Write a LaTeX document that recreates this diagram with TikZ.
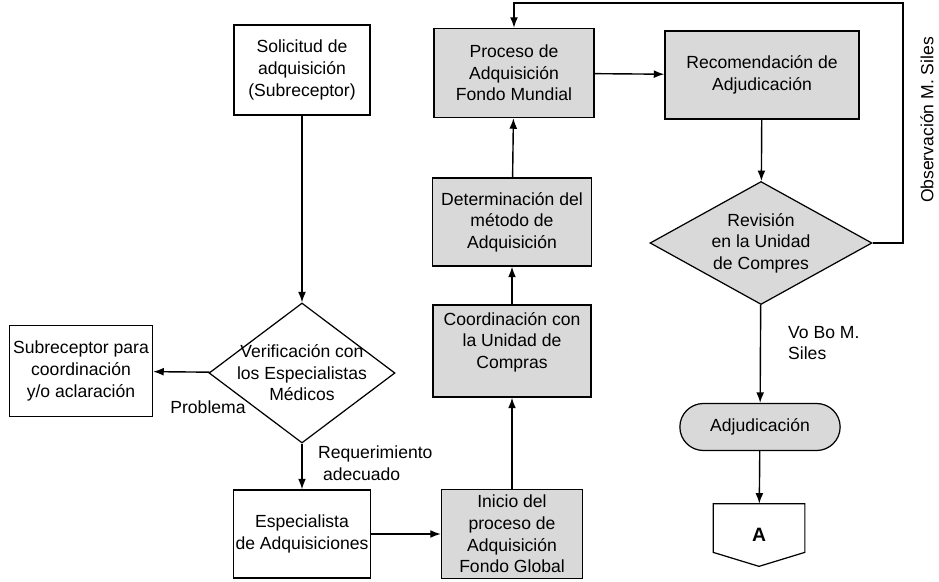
\documentclass[tikz,border=0pt]{standalone}
\usepackage{fontspec}
\setmainfont{Liberation Sans}
\usetikzlibrary{arrows.meta,shapes.geometric,shapes.misc}

\begin{document}
\begin{tikzpicture}[>={Latex[length=6pt,width=4.5pt]},x=0.02cm,y=-0.02cm,
  font=\fontsize{10}{12.3}\selectfont]
  % Configurable parameters
  \def\px{0.02cm}
  \def\greyfill{black!15}
  %
  % Styles
  \tikzset{
    box/.style={draw,rectangle,align=center,inner sep=1pt,line width=0.8pt},
    greybox/.style={box,fill=\greyfill},
    decision/.style={draw,diamond,align=center,inner sep=0pt,fill=\greyfill,line width=0.7pt},
    flow/.style={->,line width=0.8pt}
  }
  \useasboundingbox (0,0) rectangle (939,581);
  %
  % Left column
  \node[box,minimum width=136*\px,minimum height=90*\px] (sol) at (302,70)
    {Solicitud de\\adquisición\\(Subreceptor)};
  \node[decision,fill=white,aspect=1.33,inner sep=-3pt,
    minimum width=186*\px,minimum height=140*\px] (ver) at (302,373)
    {Verificación con\\los Especialistas\\Médicos};
  \node[box,minimum width=143*\px,minimum height=91*\px] (sub) at (81,371)
    {Subreceptor para\\coordinación\\y/o aclaración};
  \node[box,minimum width=137*\px,minimum height=88*\px] (esp) at (302,534)
    {Especialista\\de Adquisiciones};
  %
  % Middle column
  \node[greybox,minimum width=141*\px,minimum height=89*\px] (ini) at (512,534)
    {Inicio del\\proceso de\\Adquisición\\Fondo Global};
  \node[greybox,minimum width=158*\px,minimum height=92*\px] (coo) at (512,351)
    {Coordinación con\\la Unidad de\\Compras\\\mbox{}};
  \node[greybox,minimum width=159*\px,minimum height=88*\px] (det) at (512,222)
    {Determinación del\\método de\\Adquisición};
  \node[greybox,minimum width=160*\px,minimum height=89*\px] (pro) at (514,73)
    {Proceso de\\Adquisición\\Fondo Mundial};
  %
  % Right column
  \node[greybox,minimum width=194*\px,minimum height=88*\px] (rec) at (762,75)
    {Recomendación de\\Adjudicación};
  \node[decision,aspect=1.8,minimum width=222*\px,minimum height=123*\px] (rev) at (761,243)
    {Revisión\\en la Unidad\\de Compres};
  \node[draw,rounded rectangle,fill=\greyfill,line width=0.7pt,
    minimum width=172*\px,minimum height=47*\px] (adj) at (760,427) {Adjudicación};
  \node[minimum width=91*\px,minimum height=62*\px,font=\fontsize{11}{13}\selectfont\bfseries] (A) at (759,535) {A};
  \draw[line width=0.7pt] (A.north west) -- (A.north east) -- ([yshift=14*\px]A.south east)
    -- (A.south) -- ([yshift=14*\px]A.south west) -- cycle;
  %
  % Connectors
  \draw[flow] (sol) -- (ver);
  \draw[flow] (ver) -- (sub);
  \draw[flow] (ver) -- (esp);
  \draw[flow] (esp) -- (ini);
  \draw[flow] (ini) -- (coo);
  \draw[flow] (coo) -- (det);
  \draw[flow] (det) -- (pro);
  \draw[flow] (pro) -- (rec);
  \draw[flow] (rec) -- (rev);
  \draw[flow] (rev) -- (adj);
  \draw[flow] (adj) -- (A);
  \coordinate (fb) at (903,3);
  \draw[flow] (rev.east) -| (fb) -| (pro.north);
  %
  % Labels
  \node (prob) at (208,407) {Problema};
  \node[anchor=west,align=left] (req) at (312,463) {Requerimiento\\\ adecuado};
  \node[anchor=west,align=left] (vobo) at (782,343) {Vo Bo M.\\Siles};
  \node[rotate=90] (obs) at (927,120) {Observación M. Siles};
  %
\end{tikzpicture}
\end{document}
